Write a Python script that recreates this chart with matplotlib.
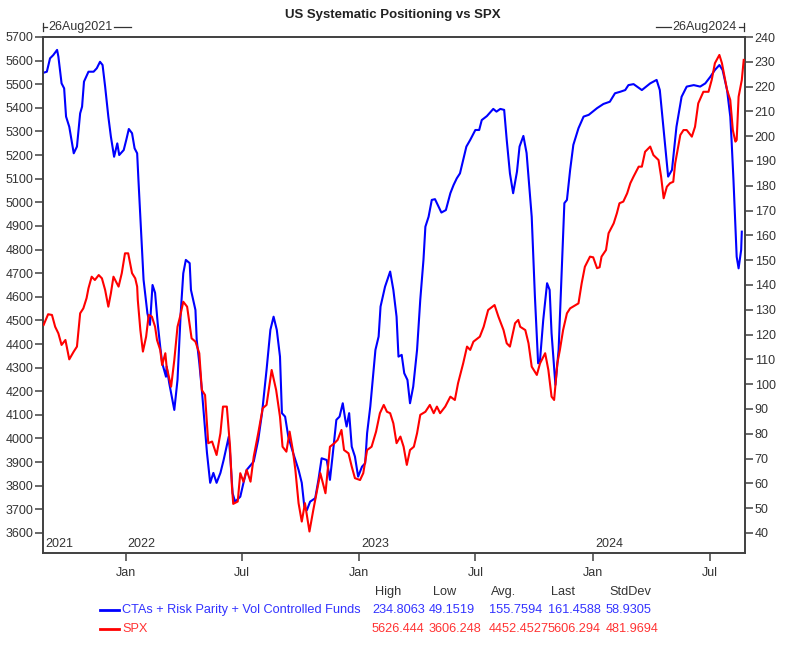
import pandas as pd
import matplotlib.pyplot as plt
import matplotlib.dates as mdates
import matplotlib.transforms as mtransforms
from matplotlib.lines import Line2D

plt.rcParams['font.family'] = ['Liberation Sans', 'DejaVu Sans']

start = pd.Timestamp('2021-08-26')

# CTAs + Risk Parity + Vol Controlled Funds (right axis), days since 26Aug2021
cta_days = [0, 5, 10, 15, 21, 23, 28, 32, 35, 40, 47, 52, 57, 60, 63, 70, 78, 83, 88, 92,
            96, 101, 105, 110, 115, 118, 125, 129, 133, 138, 142, 146, 148, 152, 156, 162, 166, 170, 174, 178,
            182, 185, 191, 192, 196, 204, 209, 214, 218, 222, 228, 230, 237, 239, 243, 247, 252, 255, 260, 265,
            270, 276, 281, 289, 291, 295, 299, 307, 312, 317, 328, 335, 341, 348, 354, 359, 364, 369, 372, 377,
            382, 388, 393, 398, 403, 407, 411, 416, 424, 429, 434, 442, 447, 451, 457, 462, 467, 471, 473, 477,
            481, 486, 491, 497, 502, 505, 510, 518, 523, 526, 533, 541, 546, 551, 554, 559, 563, 568, 572, 577,
            583, 588, 593, 596, 601, 606, 611, 621, 628, 635, 640, 645, 650, 655, 660, 666, 674, 680, 684, 692,
            702, 707, 713, 719, 723, 728, 733, 739, 743, 749, 754, 762, 767, 772, 775, 780, 786, 790, 793, 799,
            804, 809, 813, 817, 822, 827, 835, 843, 851, 864, 874, 884, 892, 900, 908, 913, 921, 934, 947, 957,
            962, 968, 975, 981, 988, 996, 1004, 1015, 1025, 1033, 1041, 1048, 1055, 1060, 1067, 1072, 1074, 1077, 1080, 1082,
            1085, 1089, 1090]
cta_vals = [225.6, 226.0, 231.4, 232.7, 234.8, 232.1, 221.3, 219.3, 207.9, 203.8, 193.1, 195.8, 209.2, 211.9, 222.0, 226.0, 226.0, 227.4, 230.0, 228.7,
            220.0, 207.9, 199.8, 191.7, 197.1, 192.4, 194.4, 198.5, 202.9, 201.2, 195.1, 193.1, 182.4, 162.2, 142.1, 128.6, 123.9, 140.0, 136.8, 124.7,
            115.1, 108.6, 103.0, 107.1, 100.5, 89.6, 101.7, 128.7, 144.7, 150.1, 148.8, 138.0, 129.9, 117.8, 108.6, 97.7, 81.5, 72.3, 60.2, 64.2,
            60.2, 64.2, 69.4, 78.8, 72.3, 56.0, 52.6, 54.6, 60.2, 65.4, 68.8, 77.5, 88.4, 105.7, 121.9, 127.2, 121.9, 111.1, 88.3, 86.9,
            78.8, 73.5, 69.4, 65.4, 60.2, 50.6, 49.2, 52.6, 54.0, 61.4, 70.1, 69.4, 61.4, 70.8, 85.6, 86.9, 92.3, 85.6, 82.9, 88.3,
            74.8, 70.8, 62.7, 66.7, 68.1, 80.2, 91.0, 113.8, 119.2, 131.3, 139.3, 145.4, 138.0, 127.2, 111.1, 111.8, 104.4, 101.7, 92.3, 99.0,
            113.8, 134.0, 150.1, 163.5, 167.5, 174.3, 174.6, 169.2, 170.2, 177.0, 180.3, 183.0, 185.0, 190.4, 195.8, 198.5, 202.5, 202.5, 206.5, 208.1,
            211.0, 209.9, 211.0, 210.6, 198.5, 185.0, 177.0, 185.7, 195.8, 200.1, 193.2, 167.5, 135.3, 108.4, 109.8, 125.9, 140.7, 138.0, 120.5, 99.7,
            113.8, 146.1, 173.0, 174.3, 186.4, 196.5, 203.2, 207.9, 208.6, 211.3, 213.0, 213.9, 217.3, 217.9, 218.6, 220.6, 221.0, 218.6, 221.3, 222.7,
            218.6, 202.5, 183.7, 186.4, 203.8, 215.9, 220.0, 220.6, 220.0, 221.3, 224.0, 226.7, 228.7, 226.7, 218.6, 207.9, 198.5, 182.3, 163.5, 151.4,
            146.7, 154.1, 161.5]

# SPX (left axis)
spx_days = [0, 7, 13, 18, 23, 28, 34, 40, 47, 52, 57, 62, 67, 70, 75, 80, 86, 91, 96, 101,
            105, 109, 117, 122, 127, 132, 138, 143, 146, 147, 151, 155, 160, 164, 169, 174, 177, 182, 185, 190,
            192, 199, 204, 209, 213, 218, 224, 231, 237, 243, 247, 252, 257, 263, 270, 276, 280, 286, 291, 294,
            296, 303, 307, 312, 317, 323, 328, 335, 342, 348, 356, 363, 369, 373, 379, 384, 389, 393, 398, 403,
            408, 415, 421, 427, 432, 440, 447, 454, 459, 465, 469, 476, 481, 486, 494, 499, 505, 512, 519, 525,
            531, 536, 541, 546, 551, 557, 562, 567, 572, 578, 583, 588, 596, 603, 609, 614, 619, 627, 635, 642,
            647, 655, 661, 666, 671, 681, 687, 694, 704, 710, 718, 723, 728, 736, 741, 744, 752, 757, 762, 770,
            775, 783, 788, 793, 797, 802, 806, 811, 817, 822, 835, 840, 845, 853, 858, 864, 868, 871, 878, 882,
            890, 895, 899, 905, 911, 916, 921, 929, 934, 939, 947, 952, 960, 964, 968, 973, 978, 983, 986, 994,
            999, 1004, 1012, 1017, 1022, 1030, 1038, 1043, 1048, 1055, 1059, 1067, 1072, 1076, 1080, 1082, 1085, 1090, 1093]
spx_vals = [4481, 4526, 4523, 4473, 4445, 4396, 4417, 4335, 4368, 4389, 4530, 4551, 4594, 4636, 4685, 4671, 4692, 4678, 4629, 4558,
            4615, 4685, 4643, 4700, 4784, 4784, 4700, 4678, 4643, 4586, 4459, 4368, 4431, 4523, 4516, 4473, 4417, 4375, 4311, 4361,
            4304, 4219, 4332, 4473, 4516, 4579, 4558, 4424, 4410, 4361, 4205, 4184, 3980, 3987, 3930, 4022, 4135, 4135, 3965, 3796,
            3723, 3733, 3853, 3817, 3867, 3817, 3923, 4022, 4128, 4142, 4290, 4205, 4092, 3965, 3944, 4029, 3951, 3867, 3726, 3648,
            3726, 3606, 3697, 3782, 3853, 3768, 3965, 3980, 3994, 4036, 3951, 3937, 3881, 3832, 3824, 3853, 3951, 3965, 4029, 4107,
            4142, 4113, 4107, 4064, 3980, 4008, 3965, 3888, 3951, 3965, 4022, 4100, 4113, 4142, 4107, 4135, 4107, 4135, 4177, 4163,
            4234, 4318, 4389, 4375, 4410, 4431, 4473, 4544, 4565, 4516, 4459, 4403, 4389, 4488, 4502, 4473, 4459, 4403, 4304, 4269,
            4318, 4361, 4290, 4177, 4163, 4318, 4375, 4459, 4530, 4551, 4572, 4657, 4727, 4770, 4767, 4721, 4725, 4770, 4798, 4869,
            4911, 4954, 4996, 5003, 5038, 5081, 5109, 5151, 5151, 5214, 5236, 5200, 5179, 5109, 5017, 5066, 5081, 5087, 5165, 5285,
            5306, 5306, 5278, 5320, 5419, 5468, 5468, 5518, 5589, 5624, 5589, 5476, 5433, 5306, 5257, 5264, 5447, 5518, 5603]

stat_cols = ['High', 'Low', 'Avg.', 'Last', 'StdDev']
cta_stats = ['234.8063', '49.1519', '155.7594', '161.4588', '58.9305']
spx_stats = ['5626.444', '3606.248', '4452.4527', '5606.294', '481.9694']

cta_dates = start + pd.to_timedelta(cta_days, unit='D')
spx_dates = start + pd.to_timedelta(spx_days, unit='D')

W, H = 796, 661
fig = plt.figure(figsize=(W / 100, H / 100), dpi=100)
ax = fig.add_axes([43 / W, 1 - 553 / H, (745 - 43) / W, (553 - 37) / H])
ax2 = ax.twinx()

axis_col = '#404040'
text_col = '#333333'

ax.plot(spx_dates, spx_vals, color='#ff0000', lw=1.5, zorder=3)
ax2.plot(cta_dates, cta_vals, color='#0000ff', lw=1.5, zorder=2)
ax.set_zorder(ax2.get_zorder() + 1)
ax.patch.set_visible(False)

ax.set_xlim(start - pd.Timedelta(days=1), start + pd.Timedelta(days=1095))
ax.set_ylim(3515, 5700)
ax2.set_ylim(31.9, 240)
ax.set_yticks(range(3600, 5701, 100))
ax2.set_yticks(range(40, 241, 10))

ax.xaxis.set_major_locator(mdates.MonthLocator(bymonth=[1, 7]))
ax.xaxis.set_major_formatter(mdates.DateFormatter('%b'))

for a in (ax, ax2):
    for s in a.spines.values():
        s.set_color(axis_col)
        s.set_linewidth(1.2)
    a.tick_params(colors=axis_col, labelcolor=text_col, labelsize=9, length=6, width=1.1, direction='out')
ax.tick_params(axis='y', pad=1)
ax2.tick_params(axis='y', pad=1)
ax.tick_params(axis='x', pad=4)

# year labels inside the plot
trans = mtransforms.blended_transform_factory(ax.transData, ax.transAxes)
ax.text(0.004, 0.005, '2021', transform=ax.transAxes, fontsize=9, color=text_col, va='bottom')
for yr in ['2022', '2023', '2024']:
    ax.text(pd.Timestamp(yr + '-01-01') + pd.Timedelta(days=3), 0.005, yr, transform=trans,
            fontsize=9, color=text_col, va='bottom')

fig.text(393 / W, 1 - 15 / H, 'US Systematic Positioning vs SPX', ha='center', va='center',
         fontsize=9.5, fontweight='bold', color='#222222')

# date range markers above the plot
ytop = 1 - 27 / H
fig.text(48 / W, ytop, '26Aug2021', ha='left', va='center', fontsize=9, color=text_col)
fig.add_artist(Line2D([43 / W, 43 / W], [1 - 23 / H, 1 - 31 / H], color=text_col, lw=0.9))
fig.add_artist(Line2D([43 / W, 47 / W], [ytop, ytop], color=text_col, lw=0.9))
fig.add_artist(Line2D([114 / W, 131 / W], [ytop, ytop], color=text_col, lw=0.9))
fig.text(737 / W, ytop, '26Aug2024', ha='right', va='center', fontsize=9, color=text_col)
fig.add_artist(Line2D([656 / W, 671 / W], [ytop, ytop], color=text_col, lw=0.9))
fig.add_artist(Line2D([739 / W, 744 / W], [ytop, ytop], color=text_col, lw=0.9))
fig.add_artist(Line2D([744 / W, 744 / W], [1 - 23 / H, 1 - 31 / H], color=text_col, lw=0.9))

# legend / stats table
col_x = [372, 429, 489, 548, 606]
head_x = [375, 433, 491, 551, 609]
for cx, name in zip(head_x, stat_cols):
    fig.text(cx / W, 1 - 592 / H, name, ha='left', va='center', fontsize=9.2, color=text_col)
rows = [('CTAs + Risk Parity + Vol Controlled Funds', cta_stats, '#0000ff', '#3333ff', 610),
        ('SPX', spx_stats, '#ff0000', '#ff3333', 629)]
for label, stats, lc, tc, yy in rows:
    fig.add_artist(Line2D([100 / W, 119 / W], [1 - yy / H, 1 - yy / H], color=lc, lw=2))
    fig.text(122 / W, 1 - yy / H, label, ha='left', va='center', fontsize=9.2, color=tc)
    for cx, v in zip(col_x, stats):
        fig.text(cx / W, 1 - yy / H, v, ha='left', va='center', fontsize=9.2, color=tc)

fig.savefig('out.png', dpi=100)
